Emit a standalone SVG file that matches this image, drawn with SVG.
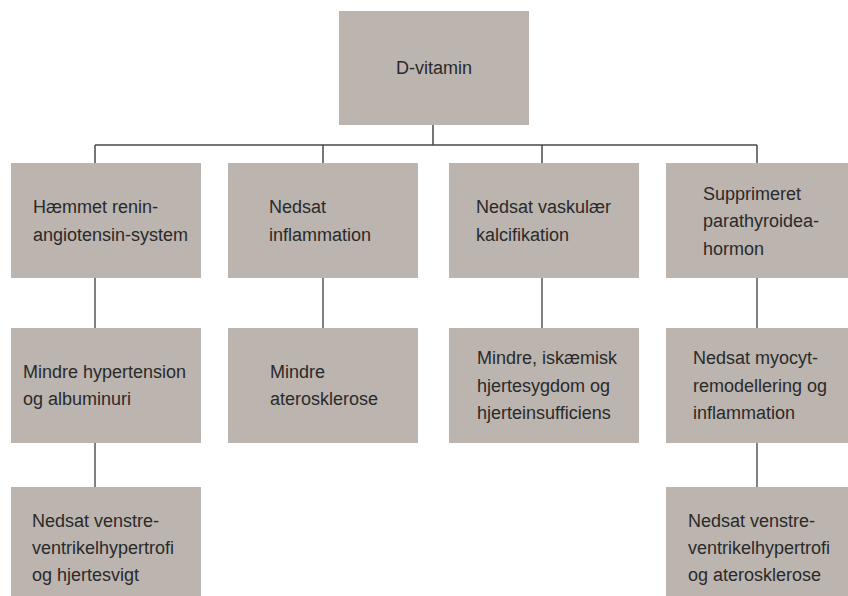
<svg xmlns="http://www.w3.org/2000/svg" width="848" height="596" viewBox="0 0 848 596">
<style>
.box{fill:#bbb4af}
.t{font-family:"Liberation Sans",Arial,sans-serif;font-size:18px;fill:#2a2a2a}
.ln{stroke:#2e2e2e;stroke-width:1.2;fill:none}
.top{stroke:#4a4a4a;stroke-width:1.5;fill:none}
</style>
<rect width="848" height="596" fill="#ffffff"/>
<g id="connectors">
<path class="top" d="M433 125V145M95 145H757M95 145V163M323 145V163M542 145V163M757 145V163"/>
<path class="ln" d="M95 278V328M323 278V328M542 278V328M757 278V328"/>
<path class="ln" d="M95 443V487M757 443V487"/>
</g>
<g id="root"><rect class="box" x="339" y="11" width="190" height="114"/><text class="t" x="396" y="74">D-vitamin</text></g>
<g id="n1"><rect class="box" x="11" y="163" width="190" height="115"/><text class="t" x="33" y="213">Hæmmet renin-</text><text class="t" x="33" y="241">angiotensin-system</text></g>
<g id="n2"><rect class="box" x="228" y="163" width="190" height="115"/><text class="t" x="269" y="213">Nedsat</text><text class="t" x="269" y="241">inflammation</text></g>
<g id="n3"><rect class="box" x="449" y="163" width="190" height="115"/><text class="t" x="476" y="213">Nedsat vaskulær</text><text class="t" x="476" y="241">kalcifikation</text></g>
<g id="n4"><rect class="box" x="666" y="163" width="190" height="115"/><text class="t" x="703" y="200">Supprimeret</text><text class="t" x="703" y="227">parathyroidea-</text><text class="t" x="703" y="255">hormon</text></g>
<g id="n5"><rect class="box" x="11" y="328" width="190" height="115"/><text class="t" x="23" y="378">Mindre hypertension</text><text class="t" x="23" y="405">og albuminuri</text></g>
<g id="n6"><rect class="box" x="228" y="328" width="190" height="115"/><text class="t" x="270" y="378">Mindre</text><text class="t" x="270" y="405">aterosklerose</text></g>
<g id="n7"><rect class="box" x="449" y="328" width="190" height="115"/><text class="t" x="477" y="364">Mindre, iskæmisk</text><text class="t" x="477" y="392">hjertesygdom og</text><text class="t" x="477" y="419">hjerteinsufficiens</text></g>
<g id="n8"><rect class="box" x="666" y="328" width="190" height="115"/><text class="t" x="693" y="364">Nedsat myocyt-</text><text class="t" x="693" y="392">remodellering og</text><text class="t" x="693" y="419">inflammation</text></g>
<g id="n9"><rect class="box" x="11" y="487" width="190" height="109"/><text class="t" x="32" y="527">Nedsat venstre-</text><text class="t" x="32" y="554">ventrikelhypertrofi</text><text class="t" x="32" y="581">og hjertesvigt</text></g>
<g id="n10"><rect class="box" x="666" y="487" width="190" height="109"/><text class="t" x="688" y="527">Nedsat venstre-</text><text class="t" x="688" y="554">ventrikelhypertrofi</text><text class="t" x="688" y="581">og aterosklerose</text></g>
</svg>
